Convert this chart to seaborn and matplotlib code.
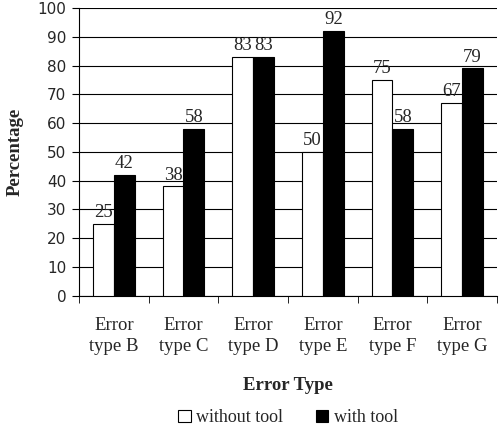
import pandas as pd
import matplotlib.pyplot as plt
import seaborn as sns

categories = ["Error\ntype B", "Error\ntype C", "Error\ntype D", "Error\ntype E", "Error\ntype F", "Error\ntype G"]
without_tool = [25, 38, 83, 50, 75, 67]
with_tool = [42, 58, 83, 92, 58, 79]
series = ["without tool", "with tool"]

df = pd.DataFrame({
    "Error Type": categories * 2,
    "Percentage": without_tool + with_tool,
    "Series": [series[0]] * len(categories) + [series[1]] * len(categories),
})

sns.set_style("white")
serif = ["Liberation Serif", "DejaVu Serif"]

fig, ax = plt.subplots(figsize=(5, 4.25), dpi=100)
fig.subplots_adjust(left=0.158, right=0.994, top=0.981, bottom=0.304)

sns.barplot(data=df, x="Error Type", y="Percentage", hue="Series",
            palette=["white", "black"], edgecolor="black", linewidth=0.8,
            width=0.6, ax=ax, zorder=3)

for c in ax.containers:
    ax.bar_label(c, fontsize=13.5, family=serif, padding=2)

# grid + axes
ax.set_ylim(0, 100)
ax.set_yticks(range(0, 101, 10))
ax.yaxis.grid(True, color="black", linewidth=0.8)
ax.set_axisbelow(True)
ax.set_xlim(-0.5, len(categories) - 0.5)
for s in ["top", "right"]:
    ax.spines[s].set_visible(False)
ax.spines["left"].set_color("black")
ax.spines["bottom"].set_color("black")

ax.tick_params(axis="y", which="major", left=True, length=5, color="black",
               labelsize=11, pad=4)
ax.tick_params(axis="x", which="major", bottom=False, pad=12)
ax.set_xticks([i + 0.5 for i in range(-1, len(categories))], minor=True)
ax.tick_params(axis="x", which="minor", bottom=True, length=5, color="black")
for lbl in ax.get_xticklabels():
    lbl.set_family(serif)
    lbl.set_fontsize(13.5)
    lbl.set_linespacing(1.25)

ax.set_xlabel("Error Type", family=serif, fontsize=13.5, fontweight="bold", labelpad=16)
ax.set_ylabel("Percentage", family=serif, fontsize=13.5, fontweight="bold", labelpad=10)

ax.legend(loc="upper center", bbox_to_anchor=(0.5, -0.37), ncol=2, frameon=False,
          prop={"family": serif, "size": 13}, handlelength=0.7, handleheight=0.7,
          handletextpad=0.3, columnspacing=1.8, borderaxespad=0)

fig.savefig("out.png", dpi=100)
